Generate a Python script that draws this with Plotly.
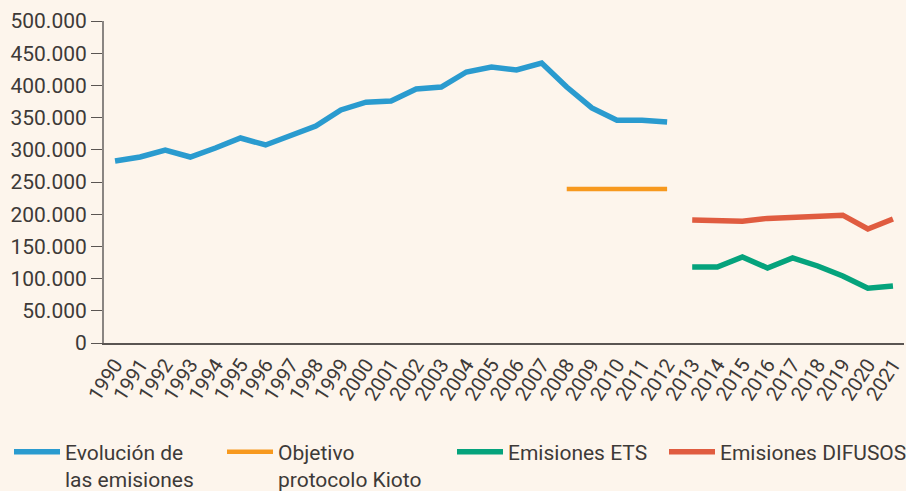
import plotly.graph_objects as go

years_hist = list(range(1990, 2013))
emis_hist = [282600, 288800, 299700, 288800, 302800, 318300, 307500, 323000, 337000, 361800,
             374000, 375800, 394400, 397500, 420800, 428600, 424000, 434800, 397500, 365000,
             346000, 346000, 343000]
years_kioto = list(range(2008, 2013))
kioto = [239000, 239000, 239000, 239000, 239000]
years_new = list(range(2013, 2022))
ets = [118000, 118000, 133500, 116500, 132000, 119600, 104000, 85000, 88500]
difusos = [191000, 191000, 189000, 193500, 195000, 196500, 198500, 177000, 192500]

all_years = list(range(1990, 2022))
y_ticks = [0, 50000, 100000, 150000, 200000, 250000, 300000, 350000, 400000, 450000, 500000]
y_labels = ["0", "50.000", "100.000", "150.000", "200.000", "250.000", "300.000",
            "350.000", "400.000", "450.000", "500.000"]

FONT = "Roboto, sans-serif"
TXT = "#3d3a38"
BG = "#fdf5ec"
W, H = 906, 491

fig = go.Figure()
fig.add_trace(go.Scatter(x=years_hist, y=emis_hist, mode="lines",
                         name="Evolución de<br>las emisiones", legend="legend",
                         line=dict(color="#2a9bcf", width=5.5)))
fig.add_trace(go.Scatter(x=years_kioto, y=kioto, mode="lines",
                         name="Objetivo<br>protocolo Kioto", legend="legend2",
                         line=dict(color="#f7991e", width=4.5)))
fig.add_trace(go.Scatter(x=years_new, y=ets, mode="lines",
                         name="Emisiones ETS", legend="legend3",
                         line=dict(color="#05a37c", width=5.5)))
fig.add_trace(go.Scatter(x=years_new, y=difusos, mode="lines",
                         name="Emisiones DIFUSOS", legend="legend4",
                         line=dict(color="#e05c40", width=5.5)))


def leg(px):
    return dict(orientation="h", xref="container", yref="container",
                x=px / W, y=0.121, xanchor="left", yanchor="top",
                font=dict(size=21, color=TXT), valign="top",
                bgcolor="rgba(0,0,0,0)", itemwidth=46)


fig.update_layout(
    width=W, height=H,
    paper_bgcolor=BG, plot_bgcolor=BG,
    margin=dict(l=104, r=0, t=21, b=148),
    font=dict(family=FONT, color=TXT, size=20),
    showlegend=True,
    legend=leg(9), legend2=leg(222), legend3=leg(452), legend4=leg(664),
    xaxis=dict(range=[1989.56, 2021.44], tickmode="array", tickvals=all_years,
               ticktext=[str(y) for y in all_years], tickangle=-57,
               ticklabeloverflow="allow",
               showgrid=False, zeroline=False, showline=True, linecolor="#5a5552",
               linewidth=2, ticks="", tickfont=dict(size=20, color=TXT)),
    yaxis=dict(range=[0, 500000], tickmode="array", tickvals=y_ticks, ticktext=y_labels,
               showgrid=False, zeroline=False, showline=True, linecolor="#8a8582",
               linewidth=2, ticks="outside", ticklen=11, tickcolor="#5a5552",
               tickfont=dict(size=21, color=TXT)),
)

fig.write_html("out.html", config={"displayModeBar": False},
               post_script="document.body.style.margin='0';document.body.style.background='#fdf5ec';")
